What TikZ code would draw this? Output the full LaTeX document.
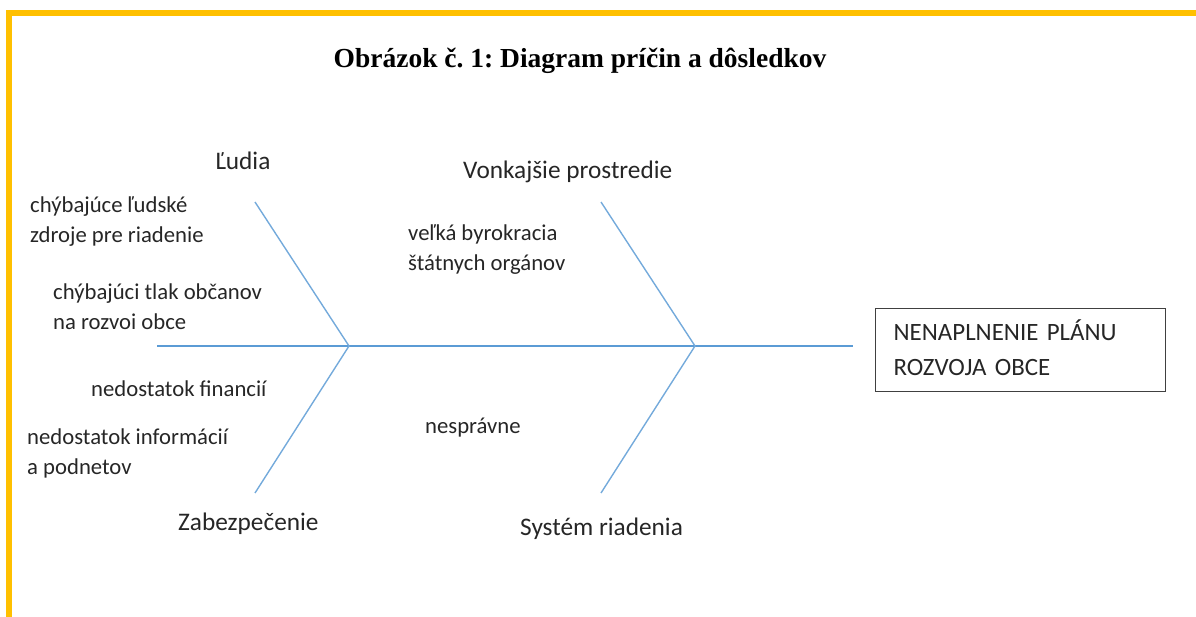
\documentclass[tikz,border=0pt]{standalone}
\usepackage{fontspec}
\setmainfont{Carlito}
\newfontfamily\titlefont{Liberation Serif}
\usetikzlibrary{positioning}
\frenchspacing

\definecolor{bonecol}{HTML}{5B9BD5}
\definecolor{framecol}{HTML}{FFC000}
\definecolor{txtcol}{HTML}{262626}

\tikzset{
  cause/.style = {anchor=base west, inner sep=0pt, align=left, text=txtcol,
    font=\fontsize{22.7}{30}\selectfont},
  category/.style = {anchor=base west, inner sep=0pt, text=txtcol,
    font=\fontsize{25.3}{30}\selectfont},
  effect/.style = {draw=black!75, line width=1.3pt, anchor=north west,
    minimum width=290pt, minimum height=83pt, text width=254pt, inner xsep=18pt,
    align=left, text=txtcol, font=\fontsize{24.9}{35}\selectfont},
  spine/.style = {draw=bonecol, line width=2.6pt},
  bone/.style = {draw=bonecol!85, line width=1.4pt},
}

\begin{document}
\begin{tikzpicture}[x=1pt, y=-1pt]
  \useasboundingbox (0,0) rectangle (1196,617);

  % yellow frame
  \fill[framecol] (6,10) rectangle (1196,16);
  \fill[framecol] (6,10) rectangle (12,617);

  \node[anchor=base, inner sep=0pt, font=\titlefont\bfseries\fontsize{27.5}{30}\selectfont]
    (title) at (580,68) {Obrázok č. 1: Diagram príčin a dôsledkov};

  % spine
  \coordinate (tail) at (157,346);
  \coordinate (j1) at (349,346);
  \coordinate (j2) at (695,346);
  \coordinate (head) at (853,346);

  % bone ends
  \coordinate (t1) at (255,202);
  \coordinate (b1) at (255,493);
  \coordinate (t2) at (601,202);
  \coordinate (b2) at (601,493);

  \node[effect] (effect) at (875,308) {NENAPLNENIE PLÁNU\\ROZVOJA OBCE\rule[-6pt]{0pt}{0pt}};

  % categories
  \node[category] (ludia) at (215,170) {Ľudia};
  \node[category] (okolie) at (463,179) {Vonkajšie prostredie};
  \node[category] (zabezp) at (178,530) {Zabezpečenie};
  \node[category] (system) at (520,535) {Systém riadenia};

  % causes (base = last line)
  \node[cause] (c1) at (30,243) {chýbajúce ľudské\\zdroje pre riadenie};
  \node[cause] (c2) at (53,330) {chýbajúci tlak občanov\\na rozvoi obce};
  \node[cause] (c3) at (91,396) {nedostatok financií};
  \node[cause] (c4) at (27,474) {nedostatok informácií\\a podnetov};
  \node[cause] (c5) at (408,271) {veľká byrokracia\\štátnych orgánov};
  \node[cause] (c6) at (425,433) {nesprávne};

  \draw[spine] (tail) -- (j1) -- (j2) -- (head);
  \draw[bone] (t1) -- (j1) -- (b1);
  \draw[bone] (t2) -- (j2) -- (b2);
\end{tikzpicture}
\end{document}
